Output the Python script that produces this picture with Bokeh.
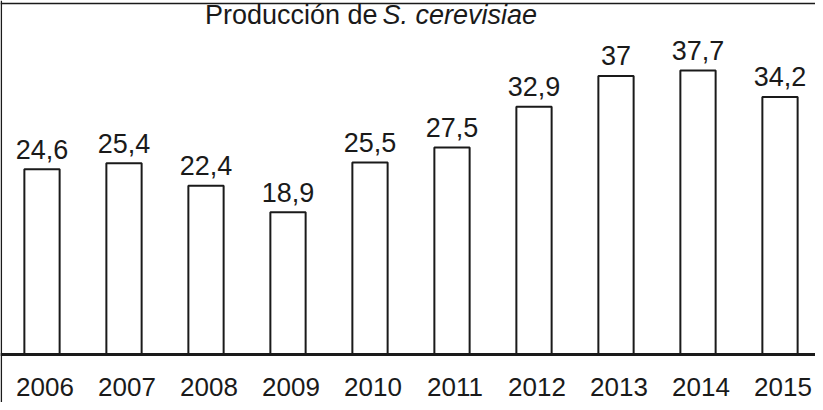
from bokeh.plotting import figure
from bokeh.models import Range1d, Span, Label
from bokeh.core.properties import value
from bokeh.embed import file_html
from bokeh.resources import INLINE

years = [2006, 2007, 2008, 2009, 2010, 2011, 2012, 2013, 2014, 2015]
production = [24.6, 25.4, 22.4, 18.9, 25.5, 27.5, 32.9, 37.0, 37.7, 34.2]
value_labels = [f"{v:g}".replace(".", ",") for v in production]
year_labels = [str(y) for y in years]
title_plain = "Producción de"
title_italic = "S. cerevisiae"

W, H = 815, 402
PX_X = 82.0      # pixels per year
PX_Y = 7.53      # pixels per unit
xs = years[0] - 41.5 / PX_X
xe = xs + W / PX_X
ye = 354 / PX_Y
ys = ye - H / PX_Y

def dx(px):  # canvas pixel -> data x
    return xs + px / PX_X

def dy(py):  # canvas pixel (from top) -> data y
    return ye - py / PX_Y

FONT = value("Liberation Sans")
INK = "#1a1a1a"

p = figure(width=W, height=H, output_backend="svg", toolbar_location=None,
           x_range=Range1d(xs, xe), y_range=Range1d(ys, ye),
           x_axis_type=None, y_axis_type=None, min_border=0,
           background_fill_color="white", border_fill_color="white")
p.outline_line_color = None
p.grid.visible = False

p.vbar(x=years, top=production, bottom=0, width=0.43,
       fill_color="white", line_color=INK, line_width=2)

p.text(x=years, y=production, text=value_labels, text_font=FONT,
       text_font_size="27px", text_color=INK, text_align="center",
       text_baseline="middle", y_offset=-20)

p.text(x=years, y=[0] * len(years), text=year_labels, text_font=FONT,
       text_font_size="26px", text_color=INK, text_align="center",
       text_baseline="middle", x_offset=3, y_offset=32)

p.add_layout(Span(location=0, dimension="width", line_color=INK, line_width=3))
p.add_layout(Span(location=dy(3), dimension="width", line_color=INK, line_width=1.5))
p.add_layout(Span(location=dx(0.8), dimension="height", line_color=INK, line_width=1.5))

p.add_layout(Label(x=dx(377), y=dy(14.5), text=title_plain, text_font="Liberation Sans",
                   text_font_size="27px", text_color=INK, text_align="right",
                   text_baseline="middle"))
p.add_layout(Label(x=dx(382), y=dy(14.5), text=title_italic, text_font="Liberation Sans",
                   text_font_size="27px", text_font_style="italic", text_color=INK,
                   text_align="left", text_baseline="middle"))

open("out.html", "w").write(file_html(p, INLINE))
